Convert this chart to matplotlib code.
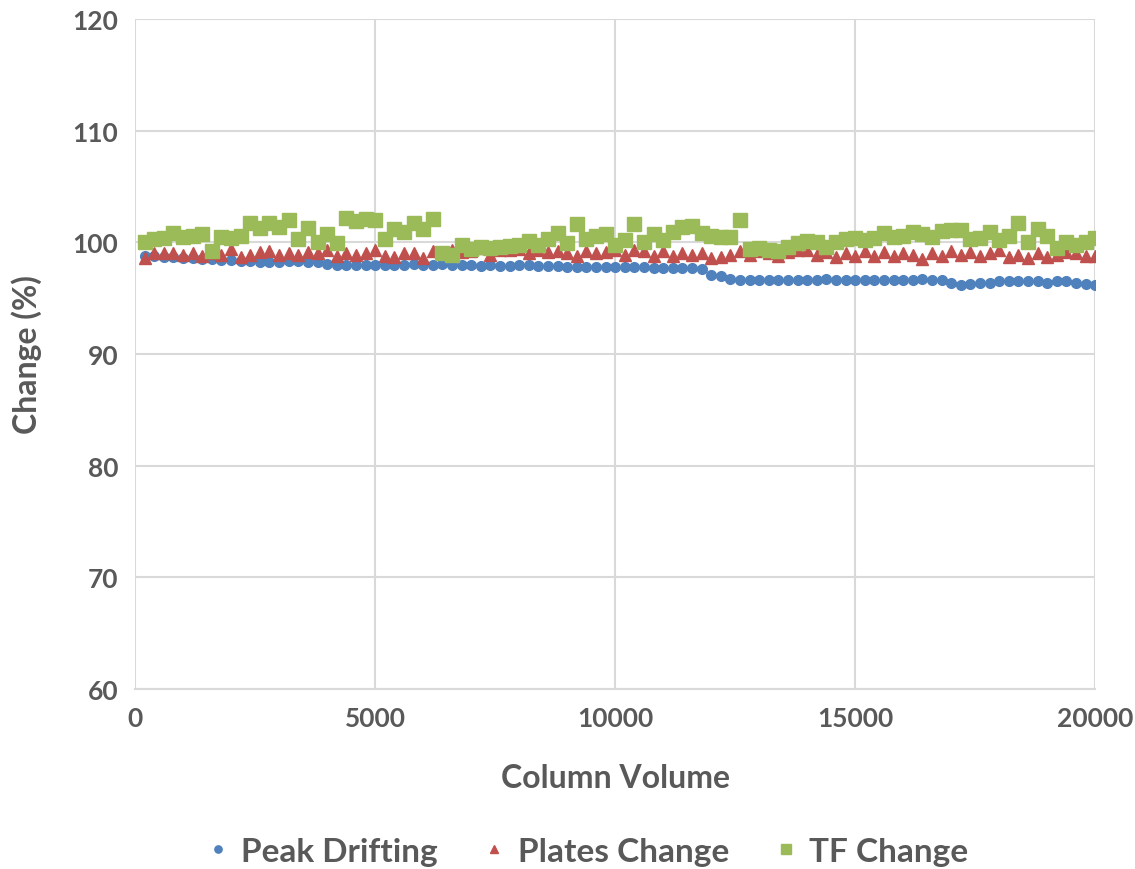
import numpy as np
import matplotlib
matplotlib.use("Agg")
import matplotlib.pyplot as plt

plt.rcParams['font.family'] = ['Lato', 'DejaVu Sans']

# column volume sampled every 200 CV
column_volume = np.arange(200, 20001, 200)

peak_drifting = [
    98.8, 98.8, 98.7, 98.7, 98.6, 98.6, 98.5, 98.5, 98.4, 98.4,
    98.3, 98.3, 98.2, 98.2, 98.2, 98.3, 98.3, 98.2, 98.2, 98.1,
    98.0, 98.0, 98.0, 98.0, 98.0, 98.0, 98.0, 98.0, 98.1, 98.0,
    98.0, 98.1, 98.0, 98.0, 98.0, 97.9, 98.0, 97.9, 97.9, 98.0,
    98.0, 97.9, 97.9, 97.9, 97.8, 97.8, 97.8, 97.8, 97.8, 97.8,
    97.8, 97.8, 97.8, 97.7, 97.7, 97.7, 97.7, 97.7, 97.6, 97.1,
    97.0, 96.7, 96.6, 96.6, 96.6, 96.6, 96.6, 96.6, 96.6, 96.6,
    96.6, 96.7, 96.6, 96.6, 96.6, 96.6, 96.6, 96.6, 96.6, 96.6,
    96.6, 96.7, 96.6, 96.6, 96.4, 96.2, 96.3, 96.4, 96.4, 96.5,
    96.5, 96.5, 96.5, 96.5, 96.4, 96.5, 96.5, 96.4, 96.3, 96.2,
]

plates_change = [
    98.6, 99.0, 99.0, 99.0, 98.9, 99.0, 98.8, 99.0, 98.9, 99.4,
    98.7, 98.9, 99.1, 99.2, 98.9, 99.0, 98.9, 99.1, 99.0, 99.3,
    98.8, 99.0, 98.9, 99.0, 99.3, 98.8, 98.7, 99.0, 99.0, 98.6,
    99.2, 99.0, 99.3, 99.1, 99.2, 99.5, 98.9, 99.3, 99.3, 99.4,
    99.0, 99.3, 99.1, 99.2, 99.0, 98.8, 99.2, 99.0, 99.1, 99.3,
    98.9, 99.3, 99.2, 98.8, 99.2, 98.8, 99.0, 98.9, 99.0, 98.6,
    98.7, 98.9, 99.2, 98.9, 99.2, 99.0, 98.8, 99.1, 99.3, 99.3,
    98.9, 99.1, 98.7, 99.0, 98.8, 99.2, 98.8, 99.1, 98.8, 99.0,
    98.9, 98.5, 99.0, 98.8, 99.2, 98.9, 99.1, 98.8, 99.0, 99.3,
    98.7, 98.9, 98.6, 99.0, 98.7, 98.9, 99.1, 99.0, 98.8, 98.8,
]

tf_change = [
    100.0, 100.3, 100.4, 100.8, 100.5, 100.6, 100.7, 99.2, 100.5, 100.4,
    100.6, 101.7, 101.3, 101.7, 101.4, 102.0, 100.3, 101.3, 100.0, 100.7,
    99.9, 102.2, 101.9, 102.1, 102.0, 100.3, 101.2, 100.9, 101.7, 101.2,
    102.1, 99.0, 98.9, 99.8, 99.4, 99.6, 99.5, 99.6, 99.7, 99.8,
    100.1, 99.8, 100.3, 100.8, 99.9, 101.6, 100.3, 100.6, 100.7, 99.8,
    100.2, 101.6, 100.0, 100.7, 100.2, 100.9, 101.4, 101.5, 100.8, 100.6,
    100.5, 100.5, 102.0, 99.4, 99.5, 99.3, 99.2, 99.6, 99.9, 100.1,
    100.0, 99.6, 100.0, 100.3, 100.4, 100.2, 100.4, 100.8, 100.5, 100.6,
    100.9, 100.7, 100.5, 101.0, 101.1, 101.1, 100.3, 100.4, 100.9, 100.2,
    100.6, 101.7, 100.0, 101.2, 100.6, 99.5, 100.0, 99.8, 100.0, 100.4,
]

text_color = "#595959"
grid_color = "#d9d9d9"

fig = plt.figure(figsize=(11.35, 8.7), dpi=100)
ax = fig.add_axes([0.119, 0.207, 0.846, 0.770])

ax.plot(column_volume, peak_drifting, "o", color="#4F81BD", markersize=7,
        label="Peak Drifting", zorder=3)
ax.plot(column_volume, plates_change, "^", color="#C0504D", markersize=8.5,
        label="Plates Change", zorder=4)
ax.plot(column_volume, tf_change, "s", color="#9BBB59", markersize=9.5,
        label="TF Change", zorder=5)

ax.set_xlim(0, 20000)
ax.set_ylim(60, 120)
ax.set_xticks([0, 5000, 10000, 15000, 20000])
ax.set_yticks(range(60, 121, 10))
ax.grid(True, color=grid_color, linewidth=1.5)
ax.set_axisbelow(True)
for side in ["left", "right", "top"]:
    ax.spines[side].set_visible(False)
ax.spines["bottom"].set_color(grid_color)
ax.spines["bottom"].set_linewidth(1.5)
ax.tick_params(length=0, pad=12, labelsize=19, labelcolor=text_color)
for lbl in ax.get_xticklabels() + ax.get_yticklabels():
    lbl.set_fontweight("bold")

ax.set_xlabel("Column Volume", fontsize=23, fontweight="bold", color=text_color, labelpad=24)
ax.set_ylabel("Change (%)", fontsize=23, fontweight="bold", color=text_color, labelpad=22)

leg = fig.legend(loc="center", bbox_to_anchor=(0.515, 0.02), ncol=3, frameon=False,
                 fontsize=24, markerscale=0.75, handletextpad=0.2, columnspacing=1.2,
                 handlelength=1.0)
for t in leg.get_texts():
    t.set_color(text_color)
    t.set_fontweight("bold")

fig.savefig("out.png", dpi=100)
